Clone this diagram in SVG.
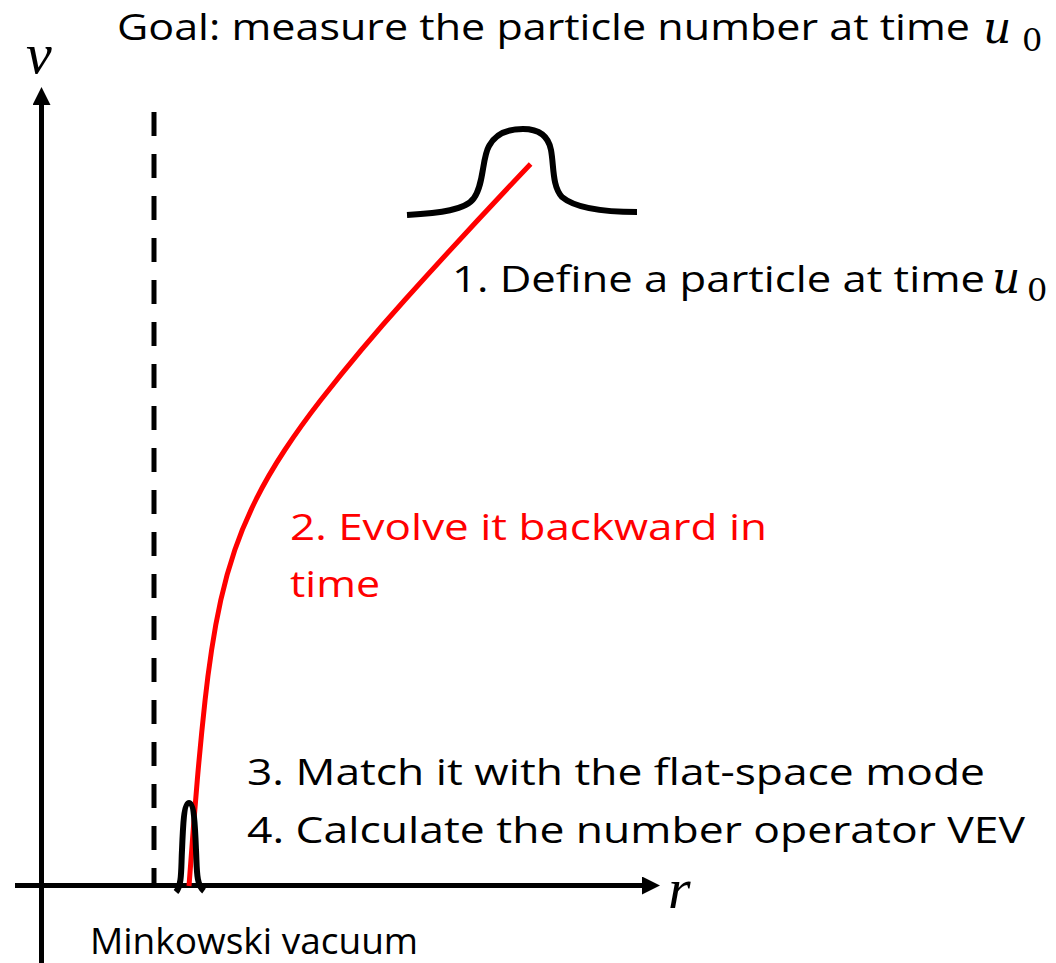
<svg xmlns="http://www.w3.org/2000/svg" width="1056" height="963" viewBox="0 0 1056 963">
<style>
.lbl{font-family:"Open Sans","Noto Sans","Liberation Sans",sans-serif;font-size:37px;fill:#000}
.red{fill:#ff0000}
.math{font-family:"Liberation Serif","DejaVu Serif",serif;font-style:italic;fill:#000}
.mu{font-family:"DejaVu Serif","Liberation Serif",serif;font-style:italic;font-size:44px;fill:#000}
.sub{font-family:"DejaVu Serif","Liberation Serif",serif;font-size:32px;fill:#000}
.axis{stroke:#000;stroke-width:5;fill:none}
.bump{stroke:#000;stroke-width:6;fill:none;stroke-linecap:butt;stroke-linejoin:round}
</style>
<defs>
<marker id="arr" markerUnits="userSpaceOnUse" markerWidth="18" markerHeight="18" refX="1" refY="9" orient="auto">
<path d="M0,0 L18,9 L0,18 z" fill="#000"/>
</marker>
</defs>
<rect width="1056" height="963" fill="#fff"/>
<g id="connectors">
<line id="v-axis" class="axis" x1="41.5" y1="963" x2="41.5" y2="104" marker-end="url(#arr)"/>
<line id="r-axis" class="axis" x1="15" y1="885.5" x2="643" y2="885.5" marker-end="url(#arr)"/>
<line id="horizon" class="axis" x1="154" y1="112" x2="154" y2="886" stroke-dasharray="24 18"/>
<path id="trajectory" d="M530.6,164 C487.5,209.3 445.6,254.7 404.8,300 C374.8,333.3 346.8,366.7 320.8,400 C307.8,416.7 295.8,433.3 284.8,450 C273.8,466.7 264.1,483.3 255.8,500 C247.5,516.7 240.5,533.3 234.8,550 C229.1,566.7 224.5,583.3 220.8,600 C217.1,616.7 214.1,633.3 211.6,650 C209.1,666.7 206.9,683.3 205.1,700 C202.2,726.7 199.6,753.3 197.3,780 C194.3,815.3 191.5,850.7 189,886" fill="none" stroke="#ff0000" stroke-width="5"/>
</g>
<g id="wavepacket-top">
<path class="bump" d="M407,215 C440,213 466,210 474,198 C484,184 482,158 489,146 C496,133 510,129 523,129 C537,129 548,134 551,150 C554,166 552,186 562,197 C575,208 600,212 637,212"/>
</g>
<g id="wavepacket-bottom">
<path class="bump" d="M176,892 C182,885 181,870 182,850 C183,825 184,803 189,803 C194,803 195,825 196,850 C197,870 196,885 204,891"/>
</g>
<g id="axis-labels">
<text class="math" x="26" y="73" font-size="58">v</text>
<text class="math" x="668" y="908" font-size="58">r</text>
</g>
<g id="title">
<text class="lbl" x="117" y="40" textLength="853" lengthAdjust="spacingAndGlyphs">Goal: measure the particle number at time</text>
<text class="mu" x="983" y="43">u</text>
<text class="sub" x="1022" y="51">0</text>
</g>
<g id="step1">
<text class="lbl" x="452" y="292" textLength="533" lengthAdjust="spacingAndGlyphs">1. Define a particle at time</text>
<text class="mu" x="992" y="293">u</text>
<text class="sub" x="1027" y="301">0</text>
</g>
<g id="step2">
<text class="lbl red" x="290" y="540" textLength="477" lengthAdjust="spacingAndGlyphs">2. Evolve it backward in</text>
<text class="lbl red" x="290" y="597" textLength="90" lengthAdjust="spacingAndGlyphs">time</text>
</g>
<g id="step3">
<text class="lbl" x="247" y="785" textLength="738" lengthAdjust="spacingAndGlyphs">3. Match it with the flat-space mode</text>
</g>
<g id="step4">
<text class="lbl" x="247" y="843" textLength="778" lengthAdjust="spacingAndGlyphs">4. Calculate the number operator VEV</text>
</g>
<g id="vacuum">
<text class="lbl" x="90" y="954">Minkowski vacuum</text>
</g>
</svg>
